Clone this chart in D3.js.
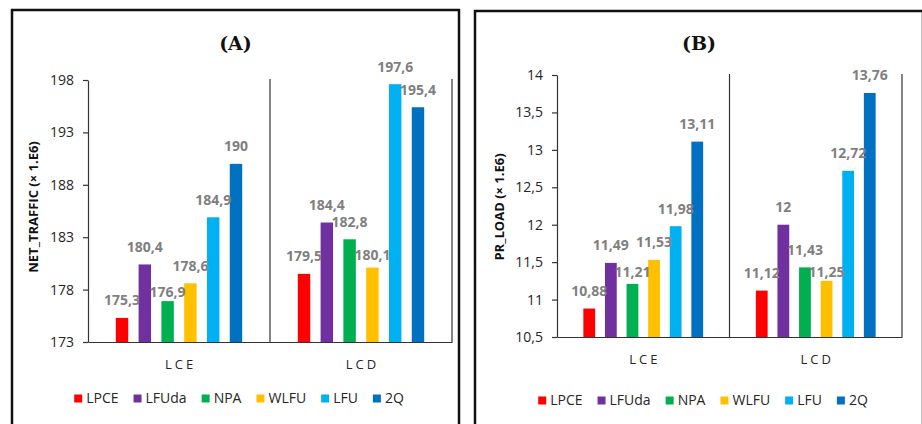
<!DOCTYPE html>
<html>
<head>
<meta charset="utf-8">
<script src="https://cdn.jsdelivr.net/npm/d3@7"></script>
<style>
  html, body { margin: 0; padding: 0; background: #fff; }
  svg { display: block; }
  text { font-family: "Open Sans", "DejaVu Sans", sans-serif; }
</style>
</head>
<body>
<svg id="chart" width="922" height="424"></svg>
<script>
// Cache policies compared on two scenarios
const categories = ["LCE", "LCD"];
const series = ["LPCE", "LFUda", "NPA", "WLFU", "LFU", "2Q"];
const seriesColors = ["#ff0000", "#7030a0", "#00b050", "#ffc000", "#00b0f0", "#0070c0"];

// NET_TRAFFIC (x 1.E6)
const trafficLCE = [175.3, 180.4, 176.9, 178.6, 184.9, 190];
const trafficLCD = [179.5, 184.4, 182.8, 180.1, 197.6, 195.4];
const trafficTicks = [173, 178, 183, 188, 193, 198];

// PR_LOAD (x 1.E6)
const loadLCE = [10.88, 11.49, 11.21, 11.53, 11.98, 13.11];
const loadLCD = [11.12, 12, 11.43, 11.25, 12.72, 13.76];
const loadTicks = [10.5, 11, 11.5, 12, 12.5, 13, 13.5, 14];

const svg = d3.select("#chart");
const fmt = v => String(v).replace(".", ",");

function drawPanel(cfg) {
  const g = svg.append("g");

  // outer frame
  g.append("rect")
    .attr("x", cfg.frame[0]).attr("y", cfg.frame[1])
    .attr("width", cfg.frame[2] - cfg.frame[0]).attr("height", 600)
    .attr("fill", "none").attr("stroke", "#111").attr("stroke-width", 2.5);

  // panel title
  g.append("text")
    .attr("x", (cfg.frame[0] + cfg.frame[2]) / 2).attr("y", cfg.titleY)
    .attr("text-anchor", "middle")
    .style("font-family", "'DejaVu Serif', 'Liberation Serif', serif")
    .style("font-weight", "bold").style("font-size", "19px").attr("fill", "#111")
    .text(cfg.title);

  const x0 = d3.scaleBand().domain(categories).range([cfg.left, cfg.right]);
  const x1 = d3.scaleBand().domain(series).range([0, x0.bandwidth()])
    .paddingInner(0.454).paddingOuter(1.22);
  const y = d3.scaleLinear().domain(cfg.domain).range([cfg.bottom, cfg.top]);

  // y axis
  const yAxis = g.append("g")
    .attr("transform", `translate(${cfg.left},0)`)
    .call(d3.axisLeft(y).tickValues(cfg.ticks).tickFormat(fmt)
      .tickSize(5).tickSizeOuter(0).tickPadding(9));
  yAxis.select(".domain").attr("stroke", "#333").attr("stroke-width", 1.2);
  yAxis.selectAll(".tick line").attr("stroke", "#333").attr("stroke-width", 1.2);
  yAxis.selectAll(".tick text")
    .style("font-size", "14px").attr("fill", "#262626");

  // x axis with category labels
  const xAxis = g.append("g")
    .attr("transform", `translate(0,${cfg.bottom})`)
    .call(d3.axisBottom(x0).tickSize(0).tickSizeOuter(0));
  xAxis.select(".domain").attr("stroke", "#333").attr("stroke-width", 1.2);
  xAxis.selectAll(".tick text")
    .attr("y", cfg.catOffset).attr("dy", 0).attr("dx", 1.5)
    .style("font-size", "13px").style("letter-spacing", "3px").attr("fill", "#262626");

  // vertical separators at category boundaries
  g.selectAll(".sep").data(categories).join("line")
    .attr("class", "sep")
    .attr("x1", d => x0(d) + x0.bandwidth()).attr("x2", d => x0(d) + x0.bandwidth())
    .attr("y1", y(cfg.domain[1]) - 1).attr("y2", cfg.bottom)
    .attr("stroke", "#333").attr("stroke-width", 1.2);

  const rows = categories.map((c, i) => ({ cat: c, values: cfg.values[i] }));
  const groups = g.selectAll(".grp").data(rows).join("g")
    .attr("class", "grp")
    .attr("transform", d => `translate(${x0(d.cat)},0)`);

  const cells = d => d.values.map((v, j) => ({
    cat: d.cat, key: series[j], value: v, color: seriesColors[j]
  }));

  groups.selectAll("rect").data(cells).join("rect")
    .attr("x", d => x1(d.key)).attr("width", x1.bandwidth())
    .attr("y", d => y(d.value)).attr("height", d => cfg.bottom - y(d.value))
    .attr("fill", d => d.color);

  // value labels; a few are pulled closer to their bar to clear a neighbour's label
  const drop = d => cfg.labelDrop[d.cat + "|" + d.key] || 0;
  groups.selectAll(".lbl").data(cells).join("text")
    .attr("class", "lbl")
    .attr("x", d => x1(d.key) + x1.bandwidth() / 2)
    .attr("y", d => y(d.value) - 12.5 + drop(d))
    .attr("text-anchor", "middle")
    .style("font-size", "14px").style("font-weight", "bold").attr("fill", "#7f7f7f")
    .text(d => fmt(d.value));

  // axis title
  g.append("text")
    .attr("transform", `translate(${cfg.yTitle[0]},${cfg.yTitle[1]}) rotate(-90)`)
    .attr("text-anchor", "middle").attr("dy", "0.35em")
    .style("font-size", "13px").style("font-weight", "bold").attr("fill", "#111")
    .text(cfg.yLabel);

  // legend
  const leg = g.append("g");
  const items = leg.selectAll("g").data(series).join("g");
  items.append("rect").attr("width", 8).attr("height", 8).attr("y", -4)
    .attr("fill", (d, i) => seriesColors[i]);
  items.append("text").attr("x", 12).attr("dy", "0.35em")
    .style("font-size", "14px").attr("fill", "#262626").text(d => d);
  let pos = 0;
  items.each(function () {
    const w = 12 + this.querySelector("text").getComputedTextLength();
    d3.select(this).attr("transform", `translate(${pos},0)`);
    pos += w + 15;
  });
  const total = pos - 15;
  leg.attr("transform", `translate(${cfg.legendCx - total / 2},${cfg.legendY})`);
}

drawPanel({
  title: "(A)", frame: [12, 10, 459], titleY: 50,
  left: 88, right: 452, top: 80, bottom: 342,
  domain: [173, 198], ticks: trafficTicks,
  values: [trafficLCE, trafficLCD],
  labelDrop: { "LCE|NPA": 8, "LCD|WLFU": 5 },
  yLabel: "NET_TRAFFIC (× 1.E6)", yTitle: [33, 207],
  catOffset: 27, legendCx: 239, legendY: 398.5
});

drawPanel({
  title: "(B)", frame: [475, 11, 923], titleY: 50,
  left: 557, right: 902, top: 75, bottom: 337,
  domain: [10.5, 14], ticks: loadTicks,
  values: [loadLCE, loadLCD],
  labelDrop: { "LCE|NPA": 6, "LCD|WLFU": 9 },
  yLabel: "PR_LOAD (× 1.E6)", yTitle: [499, 207],
  catOffset: 27, legendCx: 703, legendY: 400.5
});
</script>
</body>
</html>
